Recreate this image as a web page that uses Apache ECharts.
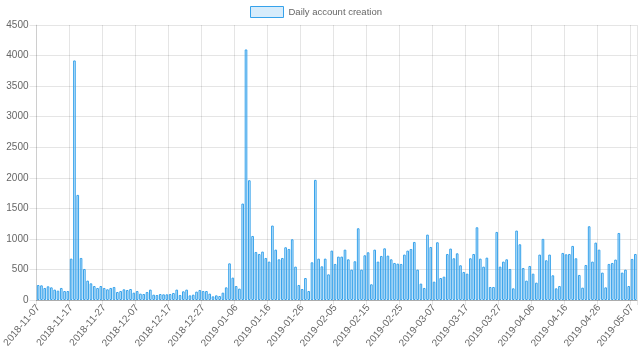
<!DOCTYPE html>
<html>
<head>
<meta charset="utf-8">
<script src="https://cdn.jsdelivr.net/npm/echarts@6/dist/echarts.min.js"></script>
<style>
html,body{margin:0;padding:0;background:#fff;}
#chart{width:640px;height:361px;}
</style>
</head>
<body>
<div id="chart"></div>
<script>
// Series name
const seriesName = 'Daily account creation';

// Daily values
const dailyAccounts = [
  245, 240, 197, 224, 207, 170, 153, 197, 147, 147,
  677, 3920, 1720, 688, 508, 317, 273, 229, 197, 229,
  197, 175, 197, 213, 131, 147, 175, 164, 180, 120,
  147, 104, 98, 131, 170, 87, 82, 98, 93, 93,
  98, 115, 170, 82, 142, 170, 76, 87, 137, 164,
  147, 147, 104, 60, 76, 65, 120, 207, 600, 366,
  229, 186, 1578, 4100, 1960, 1048, 786, 753, 792, 688,
  628, 1218, 824, 666, 688, 863, 835, 994, 546, 246,
  180, 360, 147, 617, 1966, 677, 551, 677, 420, 808,
  590, 710, 710, 824, 666, 497, 634, 1174, 497, 732,
  781, 257, 824, 628, 721, 846, 726, 666, 606, 595,
  590, 743, 808, 835, 950, 497, 268, 197, 1070, 868,
  300, 945, 360, 382, 753, 841, 683, 764, 568, 459,
  431, 683, 753, 1190, 677, 546, 693, 213, 213, 1114,
  546, 628, 666, 508, 191, 1136, 912, 524, 317, 557,
  431, 284, 743, 1000, 650, 743, 404, 191, 229, 770,
  748, 753, 885, 683, 410, 202, 573, 1207, 628, 939,
  824, 448, 207, 590, 606, 661, 1097, 448, 497, 229,
  672, 753
];

// Category dates: consecutive days from the start, one day absent from the data
const startDate = '2018-11-07';
const missingDates = ['2019-05-01'];
const dates = [];
(function () {
  const d = new Date(startDate + 'T00:00:00Z');
  while (dates.length < dailyAccounts.length) {
    const s = d.toISOString().slice(0, 10);
    if (missingDates.indexOf(s) < 0) dates.push(s);
    d.setUTCDate(d.getUTCDate() + 1);
  }
})();

// Y axis range
const yMin = 0, yMax = 4500, yStep = 500;

const FONT = '"Liberation Sans", Arial, Helvetica, sans-serif';
const chart = echarts.init(document.getElementById('chart'), null, {renderer: 'canvas'});
chart.setOption({
  animation: false,
  textStyle: {fontFamily: FONT},
  legend: {
    top: 6,
    left: 250,
    padding: 0,
    icon: 'rect',
    itemWidth: 33,
    itemHeight: 11,
    itemGap: 5,
    itemStyle: {color: 'rgba(54,162,235,0.2)', borderColor: 'rgb(54,162,235)', borderWidth: 1},
    textStyle: {color: '#666', fontSize: 9.5, fontFamily: FONT, padding: [0, 0, 0, 0]},
    data: [seriesName]
  },
  grid: {left: 33, right: 3, top: 25, bottom: 61},
  xAxis: {
    type: 'category',
    data: dates,
    boundaryGap: true,
    axisLine: {show: true, lineStyle: {color: 'rgba(0,0,0,0.25)', width: 1}},
    axisTick: {show: true, interval: 9, length: 5, lineStyle: {color: 'rgba(0,0,0,0.1)'}},
    splitLine: {show: true, interval: 9, lineStyle: {color: 'rgba(0,0,0,0.1)', width: 1}},
    axisLabel: {interval: 9, rotate: 50, margin: 6, color: '#666', fontSize: 10, fontFamily: FONT}
  },
  yAxis: {
    type: 'value',
    min: yMin, max: yMax, interval: yStep,
    axisLine: {show: true, lineStyle: {color: 'rgba(0,0,0,0.1)'}},
    axisTick: {show: true, length: 7, lineStyle: {color: 'rgba(0,0,0,0.1)'}},
    splitLine: {show: true, lineStyle: {color: 'rgba(0,0,0,0.1)'}},
    axisLabel: {margin: 8, color: '#666', fontSize: 10, fontFamily: FONT,
                formatter: function (v) { return String(v); }}
  },
  series: [{
    name: seriesName,
    type: 'bar',
    data: dailyAccounts,
    barCategoryGap: '20%',
    itemStyle: {color: 'rgba(54,162,235,0.2)', borderColor: 'rgb(54,162,235)', borderWidth: 1}
  }]
});
</script>
</body>
</html>
